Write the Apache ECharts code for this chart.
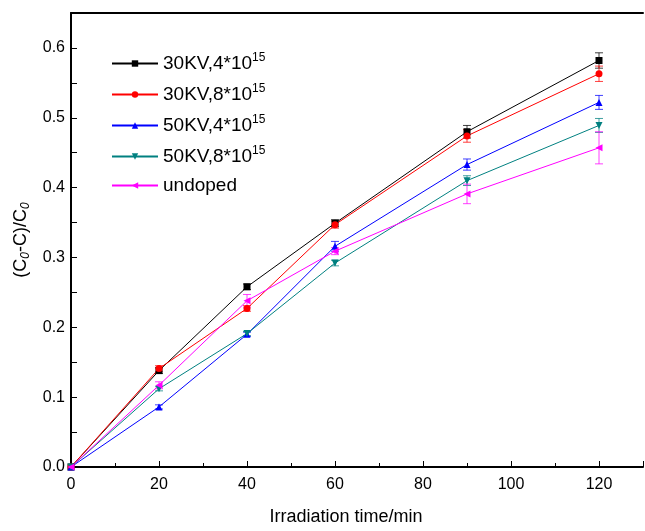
<!DOCTYPE html>
<html>
<head>
<meta charset="utf-8">
<script src="https://cdn.jsdelivr.net/npm/echarts@6/dist/echarts.min.js"></script>
<style>html,body{margin:0;padding:0;background:#fff;}#c{width:645px;height:531px;}</style>
</head>
<body>
<div id="c"></div>
<script>
var times = [0, 20, 40, 60, 90, 120];
var seriesNames = ['30KV,4*10|15', '30KV,8*10|15', '50KV,4*10|15', '50KV,8*10|15', 'undoped'];
var s30kv4 = [0, 0.138, 0.258, 0.349, 0.480, 0.582];
var s30kv8 = [0, 0.141, 0.227, 0.347, 0.474, 0.563];
var s50kv4 = [0, 0.086, 0.190, 0.316, 0.433, 0.522];
var s50kv8 = [0, 0.112, 0.191, 0.292, 0.410, 0.489];
var sUndoped = [0, 0.117, 0.238, 0.309, 0.391, 0.457];
var e30kv4 = [0, 0.004, 0.004, 0.005, 0.009, 0.011];
var e30kv8 = [0, 0.004, 0.004, 0.005, 0.009, 0.011];
var e50kv4 = [0, 0.003, 0.003, 0.007, 0.008, 0.010];
var e50kv8 = [0, 0.003, 0.003, 0.004, 0.007, 0.010];
var eUndoped = [0, 0.005, 0.009, 0.005, 0.014, 0.023];
var xTickLabels = ['0', '20', '40', '60', '80', '100', '120'];

var values = [s30kv4, s30kv8, s50kv4, s50kv8, sUndoped];
var errors = [e30kv4, e30kv8, e50kv4, e50kv8, eUndoped];
var colors = ['#000000', '#ff0000', '#0000ff', '#008080', '#ff00ff'];
var symbols = ['rect', 'circle', 'triangle', 'triangle', 'triangle'];
var rotates = [0, 0, 0, 180, 90];

function legendName(n) {
  var p = n.split('|');
  return p.length > 1 ? '{a|' + p[0] + '}{s|' + p[1] + '}' : '{a|' + p[0] + '}';
}

var series = [];
values.forEach(function (vals, i) {
  series.push({
    name: seriesNames[i],
    type: 'line',
    data: times.map(function (t, k) { return [t, vals[k]]; }),
    symbol: symbols[i],
    symbolRotate: rotates[i],
    symbolSize: 7,
    showSymbol: true,
    lineStyle: { color: colors[i], width: 1 },
    itemStyle: { color: colors[i] },
    z: 3,
    animation: false
  });
  series.push({
    name: 'err' + i,
    type: 'custom',
    data: times.map(function (t, k) { return [t, vals[k] - errors[i][k], vals[k] + errors[i][k]]; }).filter(function (d, k) { return k > 0; }),
    renderItem: function (params, api) {
      var lo = api.coord([api.value(0), api.value(1)]);
      var hi = api.coord([api.value(0), api.value(2)]);
      var w = 4;
      var st = { stroke: colors[i], lineWidth: 1, opacity: 0.75 };
      return {
        type: 'group',
        children: [
          { type: 'line', shape: { x1: lo[0], y1: lo[1], x2: hi[0], y2: hi[1] }, style: st },
          { type: 'line', shape: { x1: lo[0] - w, y1: lo[1], x2: lo[0] + w, y2: lo[1] }, style: st },
          { type: 'line', shape: { x1: hi[0] - w, y1: hi[1], x2: hi[0] + w, y2: hi[1] }, style: st }
        ]
      };
    },
    z: 2,
    animation: false
  });
});

var chart = echarts.init(document.getElementById('c'), null, { renderer: 'canvas' });
chart.setOption({
  backgroundColor: '#ffffff',
  animation: false,
  textStyle: { fontFamily: 'Liberation Sans, Arial, sans-serif' },
  grid: { left: 71, top: 13, right: 2, bottom: 60, containLabel: false },
  legend: {
    data: seriesNames,
    orient: 'vertical',
    left: 106,
    top: 47,
    itemWidth: 46,
    itemHeight: 8,
    itemGap: 10,
    formatter: legendName,
    textStyle: {
      color: '#000',
      fontFamily: 'Liberation Sans, Arial, sans-serif',
      rich: {
        a: { fontSize: 19, color: '#000', fontFamily: 'Liberation Sans, Arial, sans-serif', lineHeight: 21 },
        s: { fontSize: 12, color: '#000', fontFamily: 'Liberation Sans, Arial, sans-serif', padding: [0, 0, 11, 0] }
      }
    }
  },
  xAxis: [{
    type: 'value',
    min: 0,
    max: 130,
    interval: 20,
    name: 'Irradiation time/min',
    nameLocation: 'middle',
    nameGap: 41,
    nameTextStyle: { fontSize: 18, color: '#000', padding: [0, 22, 0, 0] },
    axisLine: { show: true, lineStyle: { color: '#000', width: 2 } },
    axisTick: { show: true, inside: true, length: 6, lineStyle: { color: '#000', width: 1 } },
    minorTick: { show: true, splitNumber: 2, length: 4, lineStyle: { color: '#000', width: 1 } },
    splitLine: { show: false },
    axisLabel: {
      fontSize: 16, color: '#000', margin: 10, showMaxLabel: false,
      formatter: function (v) { var i = xTickLabels.indexOf(String(v)); return i >= 0 ? xTickLabels[i] : ''; }
    }
  }, {
    type: 'value',
    position: 'top',
    min: 0,
    max: 130,
    axisLine: { show: true, lineStyle: { color: '#000', width: 2 } },
    axisTick: { show: false },
    axisLabel: { show: false },
    splitLine: { show: false }
  }],
  yAxis: {
    type: 'value',
    min: 0,
    max: 0.65,
    interval: 0.1,
    name: '(C{sub|0}-C)/C{sub|0}',
    nameLocation: 'middle',
    nameRotate: 90,
    nameGap: 33,
    nameTextStyle: {
      fontSize: 18, color: '#000',
      rich: { sub: { fontSize: 12, color: '#000', fontStyle: 'italic', padding: [9, 0, 0, 0] } }
    },
    axisLine: { show: true, lineStyle: { color: '#000', width: 2 } },
    axisTick: { show: true, inside: true, length: 6, lineStyle: { color: '#000', width: 1 } },
    minorTick: { show: true, splitNumber: 2, length: 6, lineStyle: { color: '#000', width: 1 } },
    splitLine: { show: false },
    axisLabel: {
      fontSize: 16, color: '#000', margin: 6, showMaxLabel: false,
      formatter: function (v) { return v.toFixed(1); }
    }
  },
  series: series
});
</script>
</body>
</html>
